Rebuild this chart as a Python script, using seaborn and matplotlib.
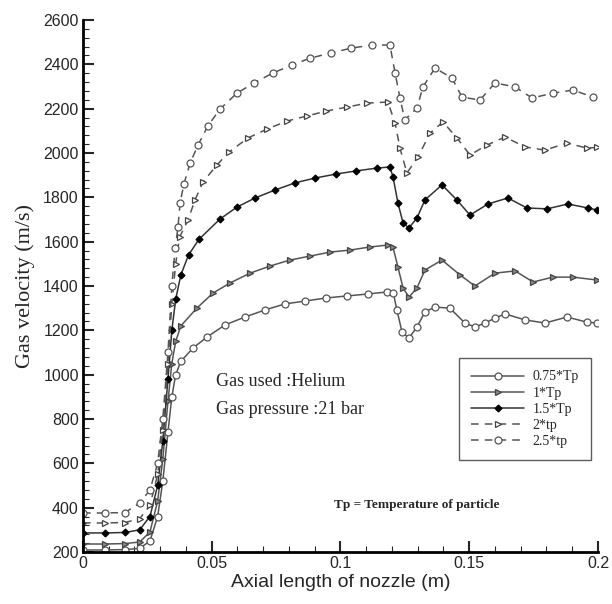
import matplotlib
matplotlib.use("Agg")
import matplotlib.pyplot as plt
import numpy as np
import pandas as pd
import seaborn as sns
from matplotlib.ticker import MultipleLocator

# Curvas (x en m, velocidad en m/s)
x_075 = [0, 0.0085, 0.0163, 0.022, 0.026, 0.029, 0.031, 0.033, 0.0345, 0.036, 0.038,
         0.0427, 0.0482, 0.0551, 0.0629, 0.0707, 0.0784, 0.0862, 0.0944, 0.1025,
         0.1107, 0.118, 0.1205, 0.1219, 0.1239, 0.1266, 0.1297, 0.1328, 0.1367,
         0.1425, 0.1483, 0.1522, 0.1561, 0.1600, 0.1639, 0.1717, 0.1794, 0.1880,
         0.1957, 0.1996]
v_075 = [209, 209, 211, 216, 250, 360, 520, 740, 900, 1000, 1060,
         1120, 1170, 1224, 1260, 1292, 1319, 1332, 1346, 1355,
         1364, 1373, 1370, 1292, 1192, 1165, 1215, 1283, 1305,
         1300, 1233, 1215, 1233, 1255, 1274, 1247, 1233, 1260,
         1237, 1233]

x_1 = [0, 0.0085, 0.0163, 0.022, 0.026, 0.029, 0.031, 0.033, 0.0345, 0.036, 0.038,
       0.0442, 0.0505, 0.057, 0.0649, 0.0726, 0.0804, 0.0882, 0.096, 0.1037,
       0.1115, 0.1185, 0.1204, 0.1223, 0.1243, 0.1266, 0.1297, 0.1328, 0.1394,
       0.1464, 0.1522, 0.1600, 0.1678, 0.1748, 0.1825, 0.1903, 0.1996]
v_1 = [236, 236, 238, 245, 290, 430, 620, 880, 1050, 1150, 1220,
       1300, 1368, 1413, 1458, 1490, 1517, 1535, 1553, 1562,
       1576, 1585, 1575, 1486, 1391, 1350, 1391, 1472, 1517,
       1450, 1400, 1458, 1468, 1418, 1440, 1440, 1427]

x_15 = [0, 0.0085, 0.0163, 0.022, 0.026, 0.029, 0.031, 0.033, 0.0345, 0.036, 0.038,
        0.041, 0.045, 0.0532, 0.0598, 0.0668, 0.0746, 0.0823, 0.0901, 0.0983,
        0.1060, 0.1142, 0.1192, 0.1204, 0.1223, 0.1243, 0.1266, 0.1297, 0.1328,
        0.1394, 0.1452, 0.1503, 0.1573, 0.1650, 0.1724, 0.1802, 0.1883, 0.1961,
        0.1996]
v_15 = [286, 286, 288, 300, 360, 500, 700, 980, 1200, 1340, 1450,
        1540, 1610, 1702, 1756, 1797, 1833, 1865, 1887, 1905,
        1919, 1932, 1937, 1892, 1775, 1684, 1662, 1707, 1788,
        1856, 1788, 1720, 1770, 1797, 1752, 1748, 1770, 1752,
        1743]

x_2 = [0, 0.0085, 0.0163, 0.022, 0.026, 0.029, 0.031, 0.033, 0.0345, 0.036, 0.0375,
       0.0408, 0.0435, 0.0466, 0.0520, 0.0567, 0.0641, 0.0715, 0.0792, 0.0870,
       0.0944, 0.1025, 0.1103, 0.1184, 0.1212, 0.1231, 0.1258, 0.1301, 0.1348,
       0.1398, 0.1452, 0.1503, 0.1569, 0.1639, 0.1717, 0.1794, 0.1880, 0.1957,
       0.1996]
v_2 = [331, 331, 333, 350, 410, 550, 750, 1050, 1320, 1500, 1620,
       1698, 1788, 1869, 1946, 2004, 2068, 2108, 2144, 2167,
       2189, 2207, 2225, 2230, 2135, 2022, 1910, 1982, 2090,
       2140, 2068, 1991, 2036, 2072, 2027, 2013, 2045, 2022,
       2025]

x_25 = [0, 0.0085, 0.0163, 0.022, 0.026, 0.029, 0.031, 0.033, 0.0345, 0.0358,
        0.0369, 0.0377, 0.0392, 0.0416, 0.0447, 0.0485, 0.0532, 0.0598, 0.0664,
        0.0738, 0.0812, 0.0882, 0.0963, 0.1041, 0.1122, 0.1192, 0.1212, 0.1231,
        0.1250, 0.1297, 0.1320, 0.1367, 0.1433, 0.1472, 0.1542, 0.1600, 0.1678,
        0.1744, 0.1825, 0.1903, 0.1981]
v_25 = [376, 376, 378, 420, 480, 600, 800, 1100, 1400, 1570,
        1666, 1774, 1860, 1955, 2036, 2122, 2198, 2270, 2316,
        2361, 2397, 2428, 2451, 2473, 2487, 2487, 2361, 2248,
        2149, 2203, 2298, 2383, 2338, 2252, 2239, 2316, 2298,
        2248, 2270, 2284, 2252]

etiquetas = ["0.75*Tp", "1*Tp", "1.5*Tp", "2*tp", "2.5*tp"]

sns.set_style("ticks")
plt.rcParams["font.family"] = ["Liberation Sans", "DejaVu Sans"]

fig = plt.figure(figsize=(6.12, 6.04), dpi=100)
ax = fig.add_axes([0.1356, 0.0861, 0.8415, 0.8808])

series = [
    (x_075, v_075, dict(marker="o", mfc="white", mec="#555555", ms=5, ls="-", lw=1.1, color="#555555")),
    (x_1, v_1, dict(marker=">", mfc="#888888", mec="#444444", ms=4.5, ls="-", lw=1.1, color="#555555")),
    (x_15, v_15, dict(marker="D", mfc="black", mec="black", ms=3.5, ls="-", lw=1.1, color="#333333")),
    (x_2, v_2, dict(marker=">", mfc="white", mec="#444444", ms=4.5, ls=(0, (5, 4)), lw=1.1, color="#555555")),
    (x_25, v_25, dict(marker="o", mfc="white", mec="#555555", ms=5, ls=(0, (5, 4)), lw=1.1, color="#555555")),
]

for (xs, vs, estilo), nombre in zip(series, etiquetas):
    df = pd.DataFrame({"x": xs, "v": vs})
    sns.lineplot(data=df, x="x", y="v", ax=ax, sort=False, estimator=None,
                 label=nombre, mew=0.9, **estilo)

ax.set_xlim(0, 0.2)
ax.set_ylim(200, 2600)
ax.xaxis.set_minor_locator(MultipleLocator(0.01))
ax.yaxis.set_major_locator(MultipleLocator(200))
ax.yaxis.set_minor_locator(MultipleLocator(40))
ax.set_xticks([0, 0.05, 0.1, 0.15, 0.2])
ax.set_xticklabels(["0", "0.05", "0.1", "0.15", "0.2"])
ax.tick_params(which="major", direction="in", length=8, width=1.5, labelsize=11.5, pad=3)
ax.tick_params(which="minor", direction="in", length=4, width=0.8)

sns.despine(ax=ax)
for lado in ["left", "bottom"]:
    ax.spines[lado].set_linewidth(2)
    ax.spines[lado].set_color("black")

ax.set_xlabel("Axial length of nozzle (m)", fontsize=14, labelpad=2)
ax.set_ylabel("Gas velocity (m/s)", fontsize=16, family="Liberation Serif", labelpad=6)

ax.text(0.0517, 967, "Gas used :Helium", family="Liberation Serif", fontsize=13, va="center")
ax.text(0.0517, 845, "Gas pressure :21 bar", family="Liberation Serif", fontsize=13, va="center")
ax.text(0.0975, 412, "Tp = Temperature of particle", family="Liberation Serif",
        fontsize=9.5, va="center", fontweight="bold")

leg = ax.legend(loc="upper left", bbox_to_anchor=(0.730, 0.3647), borderaxespad=0,
                prop={"family": "Liberation Serif", "size": 10}, handlelength=3.8,
                frameon=True, fancybox=False, edgecolor="#333333", borderpad=0.9,
                labelspacing=0.22, handletextpad=0.6)
leg.get_frame().set_linewidth(1.0)

fig.savefig("out.png", dpi=100)
